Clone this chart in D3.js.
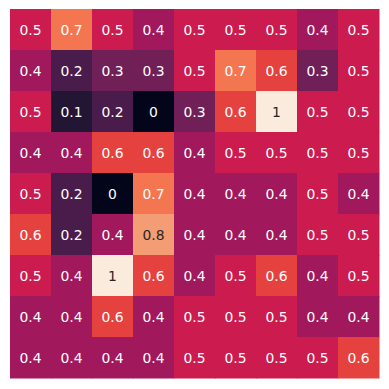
<!DOCTYPE html>
<html>
<head>
<meta charset="utf-8">
<script src="https://cdn.jsdelivr.net/npm/d3@7"></script>
<style>
  body { margin: 0; background: #fff; }
</style>
</head>
<body>
<div id="chart"></div>
<script>
// heatmap values, one array per row (as labelled in the cells)
const rows = [0, 1, 2, 3, 4, 5, 6, 7, 8];
const cols = [0, 1, 2, 3, 4, 5, 6, 7, 8];
const values = [
  [0.5, 0.7, 0.5, 0.4, 0.5, 0.5, 0.5, 0.4, 0.5],
  [0.4, 0.2, 0.3, 0.3, 0.5, 0.7, 0.6, 0.3, 0.5],
  [0.5, 0.1, 0.2, 0.0, 0.3, 0.6, 1.0, 0.5, 0.5],
  [0.4, 0.4, 0.6, 0.6, 0.4, 0.5, 0.5, 0.5, 0.5],
  [0.5, 0.2, 0.0, 0.7, 0.4, 0.4, 0.4, 0.5, 0.4],
  [0.6, 0.2, 0.4, 0.8, 0.4, 0.4, 0.4, 0.5, 0.5],
  [0.5, 0.4, 1.0, 0.6, 0.4, 0.5, 0.6, 0.4, 0.5],
  [0.4, 0.4, 0.6, 0.4, 0.5, 0.5, 0.5, 0.4, 0.4],
  [0.4, 0.4, 0.4, 0.4, 0.5, 0.5, 0.5, 0.5, 0.6]
];

// "rocket"-like colormap stops
const rocketStops = [0, 0.1, 0.2, 0.3, 0.4, 0.5, 0.6, 0.7, 0.8, 0.9, 1];
const rocketColors = ["#03051a", "#231534", "#4a1c4b", "#711f57", "#a1195c", "#cb1b4f",
                      "#e5423f", "#f37651", "#f49c74", "#f6c19f", "#faebdd"];

const width = 389;
const height = 389;
const gridLeft = 10, gridTop = 9, gridSize = 369;

const svg = d3.select("#chart")
  .append("svg")
  .attr("width", width)
  .attr("height", height);

const x = d3.scaleBand().domain(cols).range([gridLeft, gridLeft + gridSize]);
const y = d3.scaleBand().domain(rows).range([gridTop, gridTop + gridSize]);

const color = d3.scaleLinear()
  .domain(rocketStops)
  .range(rocketColors)
  .interpolate(d3.interpolateRgb);

const cells = [];
rows.forEach(r => cols.forEach(c => cells.push({ r, c, v: values[r][c] })));

// pick dark or light text like seaborn does (by luminance)
function textColor(v) {
  const rgb = d3.rgb(color(v));
  const lin = ch => {
    ch /= 255;
    return ch <= 0.03928 ? ch / 12.92 : Math.pow((ch + 0.055) / 1.055, 2.4);
  };
  const lum = 0.2126 * lin(rgb.r) + 0.7152 * lin(rgb.g) + 0.0722 * lin(rgb.b);
  return lum > 0.408 ? "#262626" : "#ffffff";
}

svg.selectAll("rect.cell")
  .data(cells)
  .enter()
  .append("rect")
  .attr("class", "cell")
  .attr("x", d => x(d.c))
  .attr("y", d => y(d.r))
  .attr("width", x.bandwidth() + 0.5)
  .attr("height", y.bandwidth() + 0.5)
  .attr("fill", d => color(d.v));

svg.selectAll("text.annot")
  .data(cells)
  .enter()
  .append("text")
  .attr("class", "annot")
  .attr("x", d => x(d.c) + x.bandwidth() / 2)
  .attr("y", d => y(d.r) + y.bandwidth() / 2)
  .attr("text-anchor", "middle")
  .attr("dominant-baseline", "central")
  .style("font-family", "DejaVu Sans, sans-serif")
  .style("font-size", "13.9px")
  .style("fill", d => textColor(d.v))
  .text(d => d3.format("~g")(d.v));
</script>
</body>
</html>
